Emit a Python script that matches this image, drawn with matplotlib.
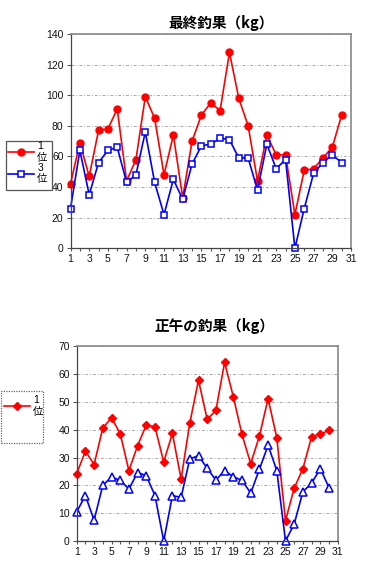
import matplotlib
matplotlib.use("Agg")
import matplotlib.pyplot as plt
from matplotlib.patches import Rectangle

plt.rcParams['font.family'] = ['Liberation Sans', 'Noto Sans CJK JP', 'DejaVu Sans']

days = list(range(1, 31))

final_1st = [42, 69, 47, 77, 78, 91, 44, 58, 99, 85, 48, 74, 33, 70, 87, 95, 90, 128,
             98, 80, 44, 74, 61, 61, 22, 51, 52, 59, 66, 87]
final_3rd = [26, 64, 35, 56, 64, 66, 43, 48, 76, 43, 22, 45, 32, 55, 67, 68, 72, 71,
             59, 59, 38, 68, 52, 58, 0, 26, 49, 56, 61, 56]

noon_1st = [24.2, 32.3, 27.5, 40.6, 44.3, 38.6, 25.3, 34.3, 41.7, 41.0, 28.4, 38.7, 22.3,
            42.4, 57.8, 43.7, 47.0, 64.2, 51.9, 38.3, 27.8, 37.7, 51.2, 37.1, 7.3, 19.0,
            26.0, 37.5, 38.4, 39.8]
noon_3rd = [10.5, 16.3, 7.5, 20.0, 23.0, 21.8, 18.7, 24.6, 23.5, 16.3, 0, 16.3, 15.7,
            29.5, 30.7, 26.1, 21.9, 25.3, 23.1, 21.8, 17.2, 25.8, 34.4, 25.3, 0, 6.1,
            17.7, 20.8, 26.0, 19.2]

title_top = "最終釣果（kg）"
title_bottom = "正午の釣果（kg）"
label_1 = "1\n位"
label_3 = "3\n位"

W, H = 372, 581
fig = plt.figure(figsize=(W / 100, H / 100), dpi=100)
legprop = {'family': ['Liberation Sans', 'Noto Sans CJK JP'], 'size': 7.5}

def style_axes(ax, ymax, ystep):
    ax.set_xlim(1, 31)
    ax.set_ylim(0, ymax)
    ax.set_yticks(range(0, ymax + 1, ystep))
    ax.set_xticks(range(1, 32))
    ax.set_xticklabels([str(d) if d % 2 == 1 else "" for d in range(1, 32)])
    ax.tick_params(axis='both', labelsize=7.5, length=3, width=0.8, color='#555555',
                   pad=2, labelcolor='#111111')
    ax.tick_params(axis='x', length=2)
    for s in ['left', 'bottom']:
        ax.spines[s].set_color('#444444')
        ax.spines[s].set_linewidth(0.9)
    for s in ['top', 'right']:
        ax.spines[s].set_color('#888888')
        ax.spines[s].set_linestyle((0, (1, 1)))
        ax.spines[s].set_linewidth(1.2)
    ax.yaxis.grid(True, color='#aaaaaa', linestyle=(0, (3, 2, 1, 2)), linewidth=0.7)
    ax.set_axisbelow(True)

def box(x0, y0, x1, y1, ls='-', color='#555555'):
    fig.add_artist(Rectangle((x0 / W, 1 - y1 / H), (x1 - x0) / W, (y1 - y0) / H,
                             transform=fig.transFigure, fill=True, facecolor='white',
                             edgecolor=color, linewidth=0.9, linestyle=ls, zorder=3))

# top chart
ax1 = fig.add_axes([70.5 / W, 1 - 248.3 / H, 280.5 / W, 214.3 / H])
style_axes(ax1, 140, 20)
l1, = ax1.plot(days, final_1st, color='#FF0000', marker='o', markersize=5,
               linewidth=1.2, clip_on=False)
l3, = ax1.plot(days, final_3rd, color='#0000FF', marker='s', markersize=5,
               markerfacecolor='white', markeredgewidth=1.1, linewidth=1.2,
               clip_on=False)
fig.text(221 / W, 1 - 23 / H, title_top, ha='center', va='center', fontsize=10.5,
         fontweight='bold', family=['Noto Sans CJK JP'])
box(5.7, 141, 51.7, 190)
leg1 = fig.legend(handles=[l1, l3], labels=[label_1, label_3],
                  loc='upper left', bbox_to_anchor=(8 / W, 1 - 141 / H),
                  frameon=False, handlelength=2.5,
                  handletextpad=0.3, borderpad=0.0, labelspacing=0.0,
                  borderaxespad=0, prop=legprop)
leg1.set_zorder(4)

# bottom chart
ax2 = fig.add_axes([76.7 / W, 1 - 541 / H, 261 / W, 194.7 / H])
style_axes(ax2, 70, 10)
m1, = ax2.plot(days, noon_1st, color='#FF0000', marker='D', markersize=4,
               linewidth=1.2, clip_on=False)
m3, = ax2.plot(days, noon_3rd, color='#0000FF', marker='^', markersize=5.5,
               markerfacecolor='white', markeredgewidth=1.1, linewidth=1.2,
               clip_on=False)
fig.text(214 / W, 1 - 326 / H, title_bottom, ha='center', va='center', fontsize=10.5,
         fontweight='bold', family=['Noto Sans CJK JP'])
box(1, 391, 42.7, 443, ls=(0, (1, 1)), color='#666666')
leg2 = fig.legend(handles=[m1], labels=[label_1],
                  loc='upper left', bbox_to_anchor=(4 / W, 1 - 395 / H),
                  frameon=False, handlelength=2.5,
                  handletextpad=0.3, borderpad=0.0, labelspacing=0.0,
                  borderaxespad=0, prop=legprop)
leg2.set_zorder(4)

fig.savefig("out.png", dpi=100)
